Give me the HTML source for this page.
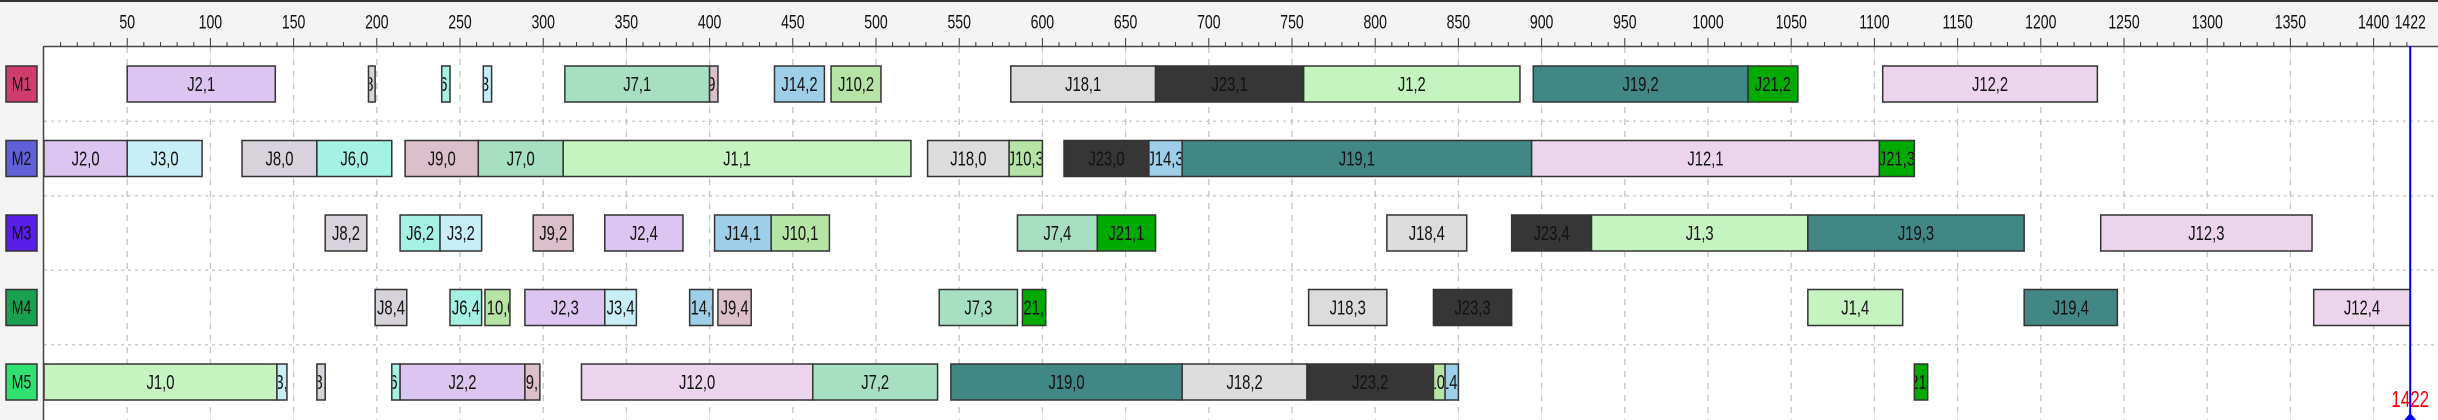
<!DOCTYPE html>
<html><head><meta charset="utf-8"><style>
html,body{margin:0;padding:0;background:#fff;width:2438px;height:420px;overflow:hidden}
svg{display:block;font-family:"Liberation Sans",sans-serif}
</style></head><body>
<svg id="chart" width="2438" height="420" xmlns="http://www.w3.org/2000/svg">
<rect x="0" y="0" width="2438" height="420" fill="#fff"/>
<rect x="0" y="0" width="2438" height="46" fill="#f4f4f4"/>
<rect x="0" y="0" width="2438" height="2" fill="#333"/>
<rect x="0" y="46" width="44" height="374" fill="#f4f4f4"/>
<g id="grid"></g><g id="bars"></g><g id="axis"></g>
</svg>
<script>
const machines = ["M1","M2","M3","M4","M5"];
const machineColors = ["#d03c6c","#6060d8","#5a1ee8","#18a050","#30e070"];
const taskLabels = [
 ["J2,1","J8,1","J6,1","J3,1","J7,1","J9,1","J14,2","J10,2","J18,1","J23,1","J1,2","J19,2","J21,2","J12,2"],
 ["J2,0","J3,0","J8,0","J6,0","J9,0","J7,0","J1,1","J18,0","J10,3","J23,0","J14,3","J19,1","J12,1","J21,3"],
 ["J8,2","J6,2","J3,2","J9,2","J2,4","J14,1","J10,1","J7,4","J21,1","J18,4","J23,4","J1,3","J19,3","J12,3"],
 ["J8,4","J6,4","J10,0","J2,3","J3,4","J14,0","J9,4","J7,3","J21,0","J18,3","J23,3","J1,4","J19,4","J12,4"],
 ["J1,0","J3,3","J8,3","J6,3","J2,2","J9,3","J12,0","J7,2","J19,0","J18,2","J23,2","J10,4","J14,4","J21,4"]
];
const taskStarts = [
 [50,195,239,264,313,400,439,473,581,668,757,895,1024,1105],
 [0,50,119,164,217,261,312,531,580,613,664,684,894,1103],
 [169,214,238,294,337,403,437,585,633,807,882,930,1060,1236],
 [199,244,265,289,337,388,405,538,588,760,835,1060,1190,1364],
 [0,140,164,209,214,289,323,462,545,684,759,835,842,1124]
];
const taskEnds = [
 [139,199,244,269,400,405,469,503,668,757,887,1024,1054,1234],
 [50,95,164,209,261,312,521,580,600,664,684,894,1103,1124],
 [194,238,263,318,384,437,472,633,668,855,930,1060,1190,1363],
 [218,263,280,337,356,402,425,585,602,807,882,1117,1246,1422],
 [140,146,169,214,289,298,462,537,684,759,835,842,850,1132]
];
const jobColors = {J1:"#c6f4c0",J2:"#dcc5f0",J3:"#c8eef8",J6:"#a4f2e4",J7:"#a6dfc2",J8:"#d8d2da",J9:"#dbbfca",J10:"#b6e4a5",J12:"#ecd5ec",J14:"#9ecfe8",J18:"#dcdcdc",J19:"#418786",J21:"#00aa00",J23:"#363636"};
const makespan = 1422;
const tickValues = [50,100,150,200,250,300,350,400,450,500,550,600,650,700,750,800,850,900,950,1000,1050,1100,1150,1200,1250,1300,1350,1400];

const NS="http://www.w3.org/2000/svg";
const X0=44, PX=1.664;
function xs(v){return X0+v*PX;}
function rowTop(i){return 66+i*74.5;}
function mk(tag,attrs,parent){const e=document.createElementNS(NS,tag);for(const k in attrs)e.setAttribute(k,attrs[k]);parent.appendChild(e);return e;}
function narrowText(parent,txt,cx,cy,size,fill){
  const g=mk("g",{transform:`translate(${cx},${cy}) scale(0.74,1)`},parent);
  const t=mk("text",{x:0,y:0,"text-anchor":"middle","dominant-baseline":"central","font-size":size,fill:fill},g);
  t.textContent=txt;return t;
}
const grid=document.getElementById("grid"),bars=document.getElementById("bars"),axis=document.getElementById("axis");
const defs=mk("defs",{},document.getElementById("chart"));

tickValues.forEach(v=>{
  const l=mk("line",{x1:xs(v),x2:xs(v),y1:47,y2:420,stroke:"#c4c4c4","stroke-width":1.3,"stroke-dasharray":"6,6"},grid);
  
  
});
for(let i=0;i<machines.length-1;i++){
  const y=(rowTop(i)+36+rowTop(i+1))/2;
  const l=mk("line",{x1:44,x2:2438,y1:y,y2:y,stroke:"#c4c4c4","stroke-width":1.3,"stroke-dasharray":"3,4"},grid);
  
  
}
for(let v=10;v<=1420;v+=10){
  const major=v%50===0;
  const l=mk("line",{x1:xs(v),x2:xs(v),y1:major?38:42,y2:46,stroke:"#333","stroke-width":1},axis);
  
  
}
tickValues.forEach(v=>{
  const t=narrowText(axis,String(v),xs(v),22,19,"#111");
  
  
});
const ml=narrowText(axis,String(makespan),xs(makespan),22,19,"#111");


mk("line",{x1:44,x2:2438,y1:46.5,y2:46.5,stroke:"#444","stroke-width":1.5},axis);
mk("line",{x1:43.5,x2:43.5,y1:46,y2:420,stroke:"#444","stroke-width":1.5},axis);

machines.forEach((m,i)=>{
  const y=rowTop(i);
  const b=mk("rect",{x:6,y:y,width:31,height:36,fill:machineColors[i],stroke:"#333","stroke-width":1.5},bars);
  
  
  const t=narrowText(bars,m,21.5,y+18,19,"#111");
  
  
  taskLabels[i].forEach((lab,j)=>{
    const s=taskStarts[i][j],e=taskEnds[i][j];
    const x1=xs(s),w=xs(e)-x1;
    const job=lab.split(",")[0];
    const g=mk("g",{},bars);
    
    
    mk("rect",{x:x1,y:y,width:w,height:36,fill:jobColors[job]||"#ccc",stroke:"#333","stroke-width":1.5},g);
    const cid="c"+i+"_"+j;
    const cp=mk("clipPath",{id:cid},defs);
    mk("rect",{x:x1+1,y:y,width:Math.max(w-2,0),height:36},cp);
    const cg=mk("g",{"clip-path":`url(#${cid})`},g);
    narrowText(cg,lab,x1+w/2,y+18,20,"#111");
  });
});

const mx=xs(makespan);
const ln=mk("line",{x1:mx,x2:mx,y1:46,y2:420,stroke:"#0000ff","stroke-width":2},axis);


const tri=mk("polygon",{points:`${mx-6},420 ${mx+6},420 ${mx},413`,fill:"#0000ff"},axis);


const mt=narrowText(axis,String(makespan),mx,400,23,"#ff0000");


</script>
</body></html>
